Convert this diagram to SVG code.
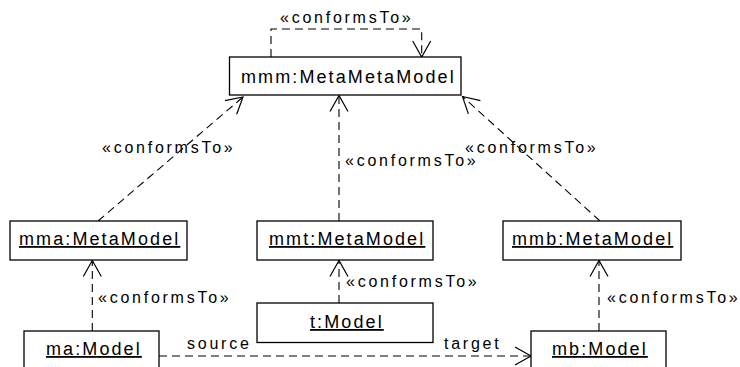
<svg xmlns="http://www.w3.org/2000/svg" width="740" height="367" viewBox="0 0 740 367">
<style>
.box{fill:#fff;stroke:#000;stroke-width:1.3}
.name{font-family:"Liberation Sans",Arial,sans-serif;font-size:18px;letter-spacing:2.1px;fill:#000;text-decoration:underline}
.plain{font-family:"Liberation Sans",Arial,sans-serif;font-size:18px;letter-spacing:2.1px;fill:#000}
.lbl{font-family:"Liberation Sans",Arial,sans-serif;font-size:16px;letter-spacing:2.75px;fill:#000}
.dep{fill:none;stroke:#000;stroke-width:1.1;stroke-dasharray:8 5;marker-end:url(#open)}
</style>
<defs>
<marker id="open" markerUnits="userSpaceOnUse" viewBox="-20 -12 24 24" refX="0" refY="0" markerWidth="24" markerHeight="24" orient="auto">
<path d="M-16,-9 L0,0 L-16,9" fill="none" stroke="#000" stroke-width="1.2"/>
</marker>
</defs>
<g id="connectors">
<path class="dep" d="M271,57 V29 H421.7 V57"/>
<path class="dep" d="M98,221 L243,97"/>
<path class="dep" d="M339,221 V95.5"/>
<path class="dep" d="M600,221 L462.5,96.5"/>
<path class="dep" d="M92.3,331 V260.5"/>
<path class="dep" d="M339,303 V260.5"/>
<path class="dep" d="M599,331 V260.5"/>
<path class="dep" d="M159,356 H531"/>
<text class="lbl" x="280" y="23">«conformsTo»</text>
<text class="lbl" x="102" y="153">«conformsTo»</text>
<text class="lbl" x="345" y="166">«conformsTo»</text>
<text class="lbl" x="465" y="153">«conformsTo»</text>
<text class="lbl" x="98" y="303">«conformsTo»</text>
<text class="lbl" x="346" y="287">«conformsTo»</text>
<text class="lbl" x="607" y="303">«conformsTo»</text>
<text class="lbl" x="187" y="349">source</text>
<text class="lbl" x="444" y="349">target</text>
</g>
<g id="mmm">
<rect class="box" x="229.5" y="57" width="231.5" height="38"/>
<text class="plain" x="241" y="83">mmm:MetaMetaModel</text>
</g>
<g id="mma">
<rect class="box" x="10" y="221" width="177" height="39"/>
<text class="name" x="19" y="245">mma:MetaModel</text>
</g>
<g id="mmt">
<rect class="box" x="257" y="221" width="176" height="39"/>
<text class="name" x="269" y="245">mmt:MetaModel</text>
</g>
<g id="mmb">
<rect class="box" x="503" y="221" width="178" height="39"/>
<text class="name" x="512" y="245">mmb:MetaModel</text>
</g>
<g id="ma">
<rect class="box" x="24" y="331" width="135" height="40"/>
<text class="name" x="46" y="355">ma:Model</text>
</g>
<g id="t">
<rect class="box" x="257" y="303" width="176" height="39.5"/>
<text class="name" x="310" y="328">t:Model</text>
</g>
<g id="mb">
<rect class="box" x="531" y="331" width="135" height="40"/>
<text class="name" x="552" y="355">mb:Model</text>
</g>
</svg>
